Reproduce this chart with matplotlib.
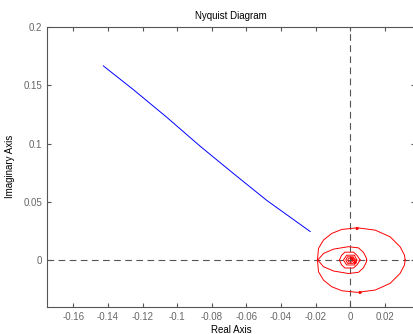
import numpy as np
import matplotlib
matplotlib.use("Agg")
import matplotlib.pyplot as plt

plt.rcParams['font.family'] = ['Liberation Sans', 'DejaVu Sans']

# 蓝色曲线 (real, imag)
blue_re = [-0.1427, -0.1253, -0.1060, -0.0868, -0.0675, -0.0482, -0.0231]
blue_im = [0.1666, 0.1462, 0.1225, 0.0978, 0.0743, 0.0512, 0.0245]

# 红色曲线: 各环的上半部分 (下半部分为共轭)
outer_re = [0.0318, 0.0314, 0.0289, 0.0231, 0.0145, 0.0042, -0.0048, -0.0106, -0.0154, -0.0183, -0.0189]
outer_im = [0.0, 0.0043, 0.0114, 0.0200, 0.0257, 0.0277, 0.0263, 0.0229, 0.0172, 0.0100, 0.0]

second_re = [0.0096, 0.0093, 0.0077, 0.0048, -0.0010, -0.0096, -0.0154, -0.0187]
second_im = [0.0, 0.0020, 0.0066, 0.0105, 0.0115, 0.0094, 0.0057, 0.0]

inner1_re = [0.0058, 0.0040, 0.0020, -0.0030, -0.0050, -0.0062]
inner1_im = [0.0, 0.0040, 0.0068, 0.0068, 0.0040, 0.0]

inner2_re = [0.0039, 0.0025, -0.0020, -0.0039]
inner2_im = [0.0, 0.0042, 0.0042, 0.0]

inner3_re = [0.0029, 0.0018, -0.0015, -0.0025]
inner3_im = [0.0, 0.0028, 0.0028, 0.0]

inner4_re = [0.0018, 0.0010, -0.0008, -0.0014]
inner4_im = [0.0, 0.0016, 0.0016, 0.0]

arrow_re = [0.0042, 0.0058, 0.0010, 0.0030]
arrow_im = [0.0277, -0.0272, 0.0016, -0.0016]

xticks = [-0.16, -0.14, -0.12, -0.1, -0.08, -0.06, -0.04, -0.02, 0, 0.02]
yticks = [0, 0.05, 0.1, 0.15, 0.2]

fig = plt.figure(figsize=(4.14, 3.34), dpi=100)
ax = fig.add_axes([47.5 / 414, 1 - 306.7 / 334, (415 - 47.5) / 414, (306.7 - 27) / 334])

grey = '#555555'
ax.axhline(0, color=grey, lw=0.8, ls=(0, (6, 4)))
ax.axvline(0, color=grey, lw=0.8, ls=(0, (6, 4)))

ax.plot(blue_re, blue_im, color='blue', lw=0.7)

for re, im in [(outer_re, outer_im), (second_re, second_im), (inner1_re, inner1_im),
               (inner2_re, inner2_im), (inner3_re, inner3_im), (inner4_re, inner4_im)]:
    re = np.array(re)
    im = np.array(im)
    xs = np.concatenate([re, re[::-1]])
    ys = np.concatenate([im, -im[::-1]])
    ax.plot(xs, ys, color='red', lw=0.7)

ax.plot(arrow_re, arrow_im, ls='none', marker='>', ms=1.5, color='red')

ax.set_xlim(-0.175, 0.0375)
ax.set_ylim(-0.04, 0.2)
ax.set_xticks(xticks)
ax.set_xticklabels(['-0.16', '-0.14', '-0.12', '-0.1', '-0.08', '-0.06', '-0.04', '-0.02', '0', '0.02'])
ax.set_yticks(yticks)
ax.set_yticklabels(['0', '0.05', '0.1', '0.15', '0.2'])
ax.tick_params(direction='in', length=3, width=0.8, top=True, right=True,
               labelsize=7, colors=grey, labelcolor='#666666', pad=4)
for s in ax.spines.values():
    s.set_color(grey)
    s.set_linewidth(0.8)

ax.set_title('Nyquist Diagram', fontsize=7, pad=6)
ax.set_xlabel('Real Axis', fontsize=7, labelpad=2)
ax.set_ylabel('Imaginary Axis', fontsize=7, labelpad=6)

plt.savefig('out.png', dpi=100)
plt.close()
